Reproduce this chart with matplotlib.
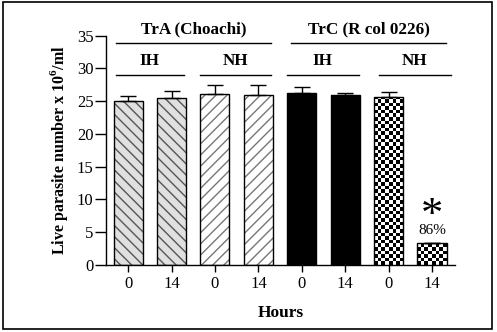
import numpy as np
import matplotlib
matplotlib.use('Agg')
import matplotlib.pyplot as plt
from matplotlib.patches import Rectangle

plt.rcParams['font.family'] = 'Liberation Serif'
plt.rcParams['mathtext.fontset'] = 'custom'
plt.rcParams['mathtext.rm'] = 'Liberation Serif'
plt.rcParams['mathtext.bf'] = 'Liberation Serif:bold'

# data
hours = ['0', '14', '0', '14', '0', '14', '0', '14']
means = [25.0, 25.5, 26.1, 25.9, 26.3, 26.0, 25.6, 3.35]
errs = [0.75, 1.1, 1.4, 1.5, 0.8, 0.3, 0.8, 0.0]
strains = ['TrA (Choachi)', 'TrC (R col 0226)']
conditions = ['IH', 'NH', 'IH', 'NH']
reduction = '86%'

x = np.arange(len(means))
w = 0.67

fig = plt.figure(figsize=(4.97, 3.32), dpi=100)
ax = fig.add_axes([106 / 497, 1 - 265 / 332, 349 / 497, 229.3 / 332])

# bar styles: fill, hatch, hatch colour
styles = [('#e0e0e0', '\\\\\\', '#555555'), ('#e0e0e0', '\\\\\\', '#555555'),
          ('white', '///', '#777777'), ('white', '///', '#777777'),
          ('black', None, 'black'), ('black', None, 'black'),
          ('black', None, 'black'), ('black', None, 'black')]

for i in range(len(means)):
    fc, hatch, hc = styles[i]
    ax.bar(x[i], means[i], w, color=fc, hatch=hatch, edgecolor=hc, linewidth=0, zorder=2)
    outline = ax.bar(x[i], means[i], w, fill=False, edgecolor='black', linewidth=1.0, zorder=4)
    if i >= 6:
        # checkerboard texture clipped to the bar
        ncol = 8
        nrow = 64
        tex = (np.add.outer(np.arange(nrow), np.arange(ncol)) % 2).astype(float)
        im = ax.imshow(tex, cmap='gray', vmin=0, vmax=1, interpolation='nearest',
                       extent=[x[i] - w / 2, x[i] + w / 2, 0, nrow * 0.55],
                       origin='lower', aspect='auto', zorder=3)
        im.set_clip_path(outline.patches[0])

ax.errorbar(x, means, yerr=[np.zeros(len(errs)), errs], fmt='none', ecolor='black',
            elinewidth=1.0, capsize=5.5, capthick=1.0, zorder=5)

ax.set_xlim(-0.51, 7.53)
ax.set_ylim(0, 35)
ax.set_yticks(np.arange(0, 36, 5))
ax.set_xticks(x)
ax.set_xticklabels(hours)
ax.tick_params(axis='y', length=8, width=1.0, labelsize=12, pad=1)
ax.tick_params(axis='x', length=5, width=1.0, labelsize=12, pad=3)
for s in ['top', 'right']:
    ax.spines[s].set_visible(False)
for s in ['left', 'bottom']:
    ax.spines[s].set_linewidth(1.0)

ax.set_ylabel(r'Live parasite number x 10$^{\mathbf{6}}$/ml', fontsize=11.5,
              fontweight='bold', labelpad=5)
ax.set_xlabel('Hours', fontsize=12.5, fontweight='bold', labelpad=9)

# group annotations
top_lines = [(-0.28, 3.30), (3.76, 7.32)]
sub_lines = [(-0.28, 1.28), (1.65, 3.30), (3.66, 5.31), (5.78, 7.43)]
for (a, b), name in zip(top_lines, strains):
    ax.plot([a, b], [33.9, 33.9], color='black', lw=1.0, clip_on=False)
    ax.text((a + b) / 2, 36.0, name, ha='center', va='center', fontsize=12.3,
            fontweight='bold')
for (a, b), name in zip(sub_lines, conditions):
    ax.plot([a, b], [29.0, 29.0], color='black', lw=1.0, clip_on=False)
    ax.text((a + b) / 2, 31.1, name, ha='center', va='center', fontsize=12.3,
            fontweight='bold')

ax.text(x[7], means[7] + 2.5, '*', ha='center', va='baseline', fontsize=32)
ax.text(x[7], means[7] + 1.9, reduction, ha='center', va='center', fontsize=11)

fig.patches.append(Rectangle((3 / 497, 3 / 332), 489 / 497, 327 / 332,
                             transform=fig.transFigure, fill=False,
                             edgecolor='black', linewidth=1.2))

fig.savefig('out.png', dpi=100)
